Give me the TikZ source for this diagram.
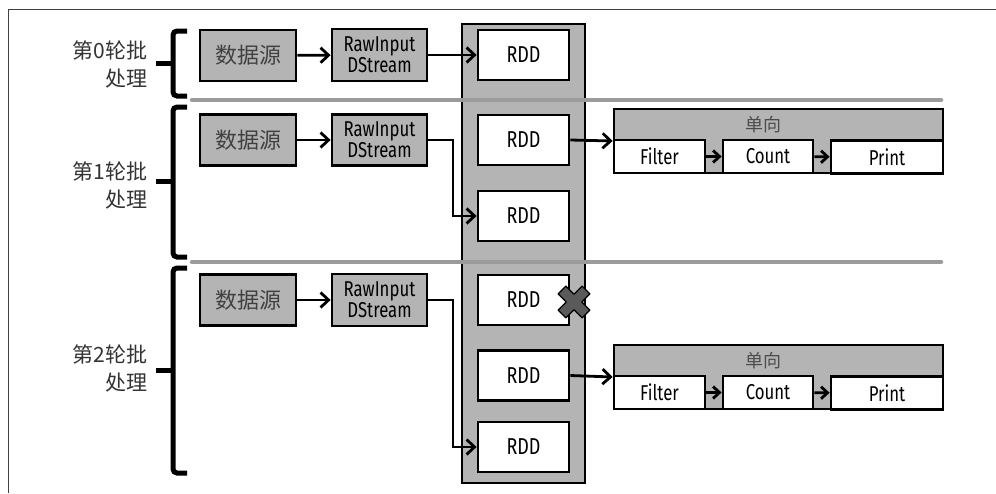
\documentclass[tikz,border=0pt]{standalone}
\usepackage{fontspec}
\setmainfont[FakeStretch=0.78]{Fira Sans}
\newfontfamily\cjk{Noto Sans CJK SC}
\usetikzlibrary{arrows.meta}
\definecolor{boxgray}{RGB}{180,180,180}
\definecolor{sepgray}{RGB}{155,155,155}
\definecolor{xgray}{RGB}{90,90,90}
\begin{document}
\begin{tikzpicture}[x=1pt,y=-1pt,
  box/.style={draw=black,line width=2.8pt,inner sep=0pt,align=center},
  graybox/.style={box,fill=boxgray},
  whitebox/.style={box,fill=white},
  arr/.style={line width=2.8pt,-{Straight Barb[length=8pt,width=15pt]}},
  sarr/.style={line width=2.8pt,-{Straight Barb[length=6.5pt,width=12pt]}},
  bracepath/.style={line width=5pt,rounded corners=4pt},
  sep/.style={line width=4.5pt,sepgray,line cap=round},
  lab/.style={align=right,anchor=east,font=\cjk\fontsize{21}{28}\selectfont,text=black!80},
  lat/.style={font=\fontsize{21.5}{18}\selectfont},
  cn/.style={font=\cjk\fontsize{22}{24}\selectfont,text=black!75},
]
\useasboundingbox (0,0) rectangle (996,493);
% frame
\draw[line width=1.8pt,black!75] (8.5,493) -- (8.5,9.5) -- (996,9.5);

% labels
\node[lab] (l0) at (151,64) {第0轮批\\处理};
\node[lab] (l1) at (151,185) {第1轮批\\处理};
\node[lab] (l2) at (151,368) {第2轮批\\处理};

% braces
\draw[bracepath] (187,31) -| (173,63) |- (187,96);
\draw[bracepath] (173,63) -- (156,63);
\draw[bracepath] (187,107) -| (173,181) |- (187,257);
\draw[bracepath] (173,181) -- (156,181);
\draw[bracepath] (187,268) -| (173,370) |- (187,473);
\draw[bracepath] (173,370) -- (156,370);

% column
\node[graybox,minimum width=123pt,minimum height=459pt] (col) at (523.5,253.5) {};

% separators
\draw[sep] (192,100) -- (941,100);
\draw[sep] (192,262) -- (941,262);

% sources
\node[graybox,cn,minimum width=96pt,minimum height=51pt] (ds0) at (248,55.5) {数据源};
\node[graybox,cn,minimum width=96pt,minimum height=51pt] (ds1) at (248,140) {数据源};
\node[graybox,cn,minimum width=96pt,minimum height=51pt] (ds2) at (248,300) {数据源};

\node[graybox,lat,minimum width=95pt,minimum height=52pt] (rw0) at (379.5,55) {RawInput\\DStream};
\node[graybox,lat,minimum width=95pt,minimum height=51pt] (rw1) at (379.5,140) {RawInput\\DStream};
\node[graybox,lat,minimum width=95pt,minimum height=52pt] (rw2) at (379.5,300) {RawInput\\DStream};

% RDDs
\foreach \n/\y in {r0/55,r1/140,r1b/216,r2/300,r2b/375.5,r2c/447}{
  \node[whitebox,font=\fontsize{23}{23}\selectfont,minimum width=91pt,minimum height=50pt] (\n) at (523.5,\y) {RDD};
}

% pipelines
\node[graybox,minimum width=329pt,minimum height=64pt] (p1) at (778.5,141) {};
\node[font=\cjk\fontsize{18}{18}\selectfont,text=black!70] (h1) at (763,124.5) {单向};
\node[whitebox,lat,minimum width=91pt,minimum height=33pt] (f1) at (659.5,156.5) {Filter};
\node[whitebox,lat,minimum width=90pt,minimum height=33pt] (c1) at (768,156.5) {Count};
\node[whitebox,lat,minimum width=112pt,minimum height=33pt] (pr1) at (887,157) {Print};

\node[graybox,minimum width=329pt,minimum height=64pt] (p2) at (778.5,377) {};
\node[font=\cjk\fontsize{18}{18}\selectfont,text=black!70] (h2) at (763,360.5) {单向};
\node[whitebox,lat,minimum width=91pt,minimum height=33pt] (f2) at (659.5,392.5) {Filter};
\node[whitebox,lat,minimum width=90pt,minimum height=33pt] (c2) at (768,392.5) {Count};
\node[whitebox,lat,minimum width=112pt,minimum height=33pt] (pr2) at (887,393) {Print};

% connectors
\draw[arr] (ds0) -- (rw0);
\draw[arr] (ds1) -- (rw1);
\draw[arr] (ds2) -- (rw2);
\draw[arr] (rw0.east) -- (r0.west);
\coordinate (k) at (453,0);
\draw[arr] (rw1.east) -- (rw1.east -| k) |- (r1b.west);
\draw[arr] (rw2.east) -- (rw2.east -| k) |- (r2c.west);
\draw[arr] (r1.east) -- (p1.west);
\draw[arr] (r2b.east) -- (p2.west);
\draw[sarr] (f1) -- (c1);
\draw[sarr] (c1) -- (pr1);
\draw[sarr] (f2) -- (c2);
\draw[sarr] (c2) -- (pr2);

% X mark
\begin{scope}[shift={(574,302)},rotate=45]
\filldraw[fill=xgray,draw=black,line width=1.2pt,line join=round]
 (-5.5,-17) -- (5.5,-17) -- (5.5,-5.5) -- (17,-5.5) -- (17,5.5) -- (5.5,5.5) -- (5.5,17) -- (-5.5,17) -- (-5.5,5.5) -- (-17,5.5) -- (-17,-5.5) -- (-5.5,-5.5) -- cycle;
\end{scope}
\end{tikzpicture}
\end{document}
